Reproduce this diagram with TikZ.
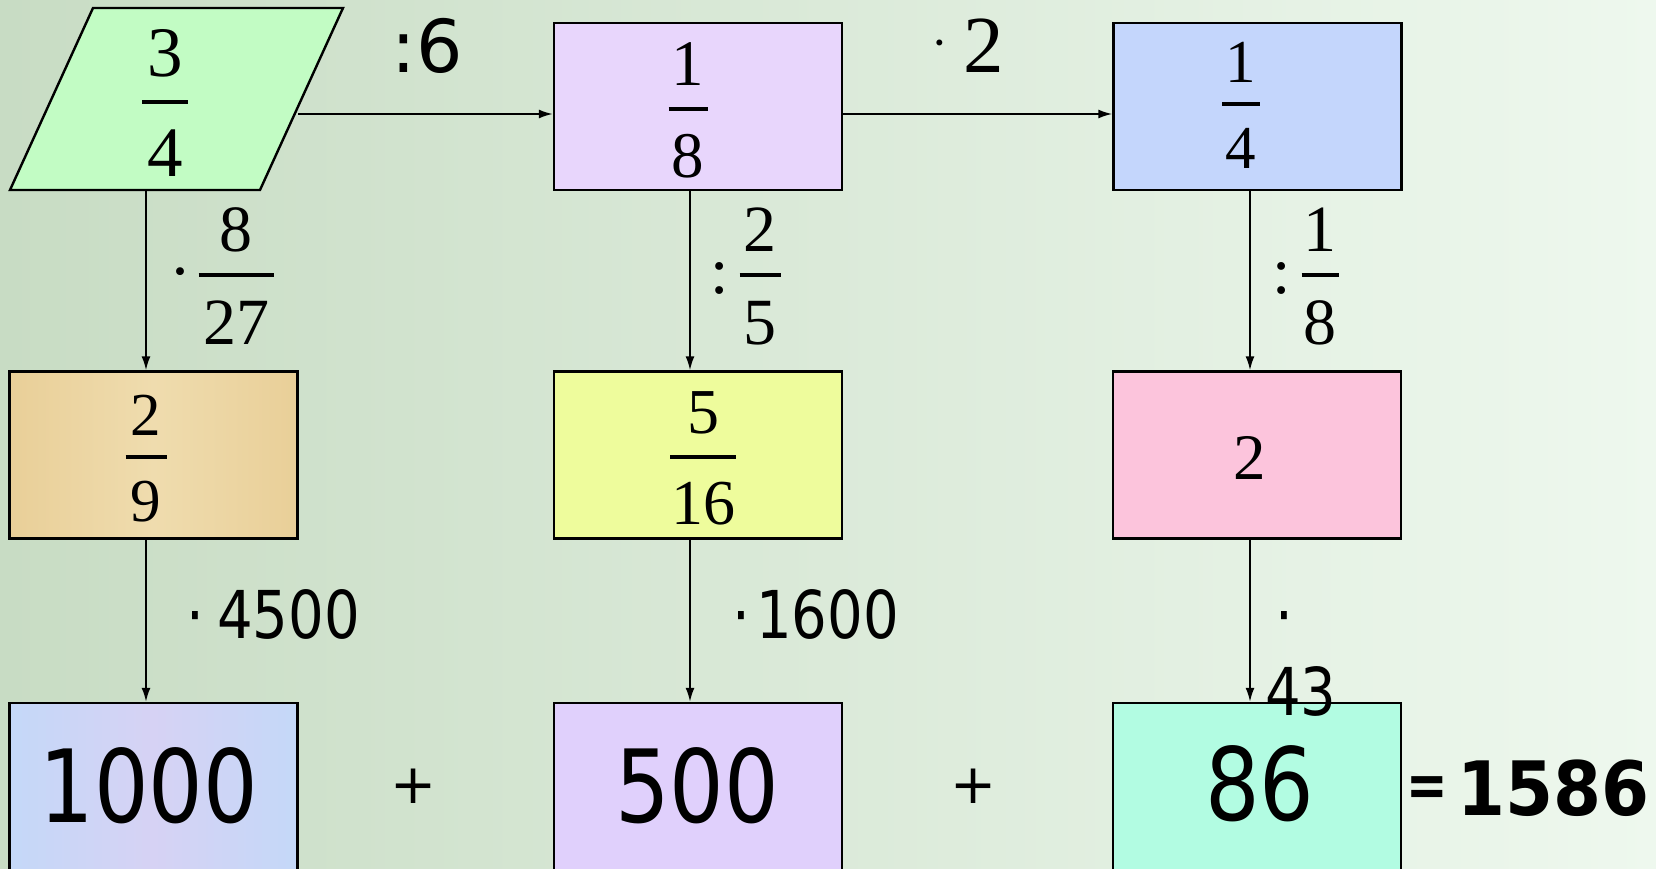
\documentclass[tikz,border=0pt]{standalone}
\usepackage{fontspec}
\usepackage{graphicx}
\setmainfont{Liberation Serif}
\newfontfamily\sansf{DejaVu Sans}
\usetikzlibrary{arrows.meta}
\definecolor{bgL}{HTML}{C8DCC4}
\definecolor{bgR}{HTML}{EEF8EE}
\definecolor{cGreen}{HTML}{C2FCC4}
\definecolor{cPurple}{HTML}{E8D6FC}
\definecolor{cBlue}{HTML}{C4D6FC}
\definecolor{cTan}{HTML}{E9CF98}
\definecolor{cTanL}{HTML}{EFDCAE}
\definecolor{cYellow}{HTML}{EEFC9C}
\definecolor{cPink}{HTML}{FCC4DC}
\definecolor{cLav}{HTML}{E0D0FC}
\definecolor{cMint}{HTML}{B2FCE2}
\definecolor{cSky}{HTML}{C4D8F8}
\definecolor{cSkyP}{HTML}{D6D2F4}
\newcommand\fsz[1]{\fontsize{#1}{#1}\selectfont}
\newcommand\sxs[2]{\scalebox{#1}[1]{#2}}
% name, x, bar y, numerator, denominator, bar length, size
\newcommand\fracnodes[7]{%
  \node[t, font=\fsz{#7}] (#1n) at (#2, #3-0.36*#7) {#4};
  \node[t, font=\fsz{#7}] (#1d) at (#2, #3+1.05*#7) {#5};
  \draw[barline] (#2-#6/2, #3) -- (#2+#6/2, #3);}
\begin{document}
\begin{tikzpicture}[x=1pt,y=-1pt,
  box/.style={draw=black, line width=2.4pt, inner sep=0pt, minimum width=288pt, minimum height=167pt},
  lowbox/.style={draw=black, line width=2.4pt, inner sep=0pt, minimum width=288pt, minimum height=180pt},
  arr/.style={draw=black, line width=1.8pt, -{Latex[length=14pt,width=9pt]}},
  t/.style={inner sep=0pt, anchor=base, text=black},
  tw/.style={inner sep=0pt, anchor=base west, text=black},
  barline/.style={line width=3.2pt}]
\useasboundingbox (0,0) rectangle (1656,869);
\shade[left color=bgL, right color=bgR] (0,0) rectangle (1656,869);
\begin{scope}
\clip (0,0) rectangle (1656,869);
% column and row guides
\coordinate (c1) at (146,0);
\coordinate (c2) at (690,0);
\coordinate (c3) at (1250,0);
% parallelogram 3/4
\draw[fill=cGreen, line width=2.4pt] (93,8) -- (343,8) -- (260,190) -- (10,190) -- cycle;
\coordinate (parR) at (298,114);
\coordinate (parS) at (146,190);
% boxes
\node[box, fill=cPurple] (b18) at (698,106.5) {};
\node[box, fill=cBlue] (b14) at (1257.5,106.5) {};
\node[box, left color=cTan, right color=cTan, middle color=cTanL] (b29) at (153.5,455) {};
\node[box, fill=cYellow] (b516) at (698,455) {};
\node[box, fill=cPink] (b2) at (1257,455) {};
\node[lowbox, left color=cSky, right color=cSky, middle color=cSkyP] (b1000) at (153.5,793) {};
\node[lowbox, fill=cLav] (b500) at (698,793) {};
\node[lowbox, fill=cMint] (b86) at (1257,793) {};
% connectors
\draw[arr] (parR) -- (parR -| b18.west);
\draw[arr] (b18.east |- parR) -- (b14.west |- parR);
\draw[arr] (parS) -- (b29.north -| c1);
\draw[arr] (b18.south -| c2) -- (b516.north -| c2);
\draw[arr] (b14.south -| c3) -- (b2.north -| c3);
\draw[arr] (b29.south -| c1) -- (b1000.north -| c1);
\draw[arr] (b516.south -| c2) -- (b500.north -| c2);
\draw[arr] (b2.south -| c3) -- (b86.north -| c3);
% box contents
\fracnodes{f34}{165}{102}{3}{4}{46}{71}
\fracnodes{f18}{688}{109}{1}{8}{39}{65}
\fracnodes{f14}{1241}{104}{1}{4}{38}{61}
\fracnodes{f29}{146}{457}{2}{9}{41}{61}
\fracnodes{f516}{703}{457}{5}{16}{66}{64}
\node[t, font=\fsz{65}] (two) at (1250,479) {2};
\node[t, font=\sansf\fsz{101}] (n1000) at (149,822) {\sxs{0.85}{1000}};
\node[t, font=\sansf\fsz{101}] (n500) at (697,822) {\sxs{0.85}{500}};
\node[t, font=\sansf\fsz{101}] (n86) at (1260,820) {\sxs{0.85}{86}};
% edge labels
\node[t, font=\sansf\fsz{73}] (l6) at (427,73) {:6};
\node[tw, font=\fsz{81}] (l2) at (931,73) {{\fsz{50}\raisebox{13pt}{·}}\kern16pt 2};
\node[t, font=\fsz{66}] (d827) at (180,293) {·};
\fracnodes{f827}{236}{275}{8}{27}{75}{66}
\node[t, font=\fsz{66}] (k25) at (720,293) {:};
\fracnodes{f25}{760}{275}{2}{5}{41}{66}
\node[t, font=\fsz{66}] (k18) at (1282,293) {:};
\fracnodes{f18b}{1320}{275}{1}{8}{37}{66}
\node[tw, font=\sansf\fsz{66}] (l4500) at (186,638) {\sxs{0.85}{·\kern15.5pt 4500}};
\node[tw, font=\sansf\fsz{66}] (l1600) at (732,638) {\sxs{0.85}{·\kern7.3pt 1600}};
\node[tw, font=\sansf\fsz{66}] (ldot) at (1275,638) {\sxs{0.85}{·}};
\node[tw, font=\sansf\fsz{66}] (l43) at (1265,715) {\sxs{0.85}{43}};
% sum line
\node[t, font=\sansf\fsz{55}] (plus1) at (414,803) {+};
\node[t, font=\sansf\fsz{55}] (plus2) at (974,803) {+};
\node[t, font=\sansf\bfseries\fsz{62}] (eq) at (1427,806) {\sxs{0.8}{=}};
\node[t, font=\sansf\bfseries\fsz{75}] (sum) at (1553,815) {\sxs{0.92}{1586}};
\end{scope}
\end{tikzpicture}
\end{document}
